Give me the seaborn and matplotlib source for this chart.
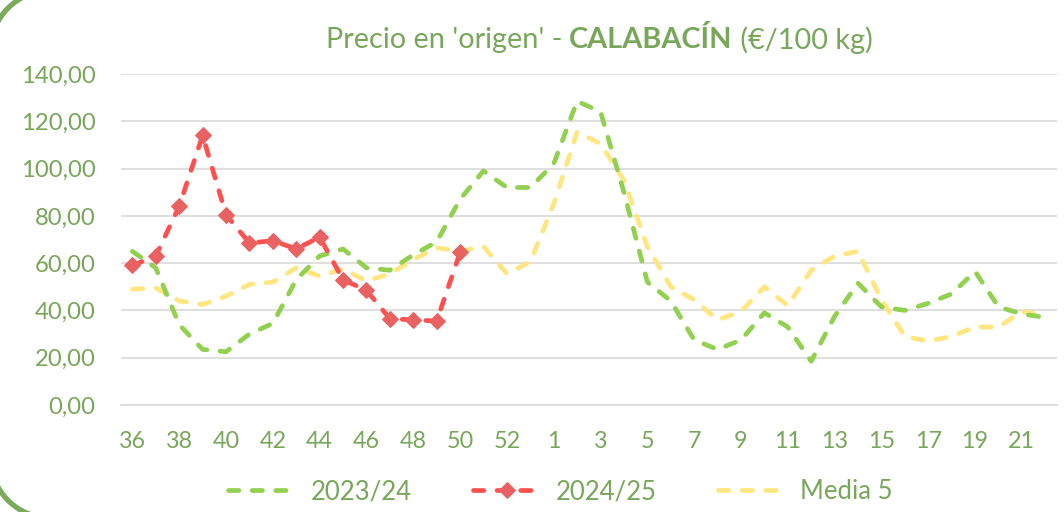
import matplotlib
matplotlib.use("Agg")
import matplotlib.pyplot as plt
from matplotlib.patches import Arc
from matplotlib.ticker import FuncFormatter, FixedLocator
import numpy as np
import pandas as pd
import seaborn as sns

# semanas de la campaña (36..53, 1..22)
semanas = [str(w) for w in range(36, 54)] + [str(w) for w in range(1, 23)]

precio_2324 = [65, 58, 34, 23.5, 22.5, 30, 34.5, 53, 63, 66, 58, 57, 63.5, 69, 87, 99,
               92, 92, 102, 128.5, 124, 90, 52, 44, 27.5, 23.5, 27.5, 39, 33, 18.5,
               37.5, 51.5, 41.5, 40, 43, 47, 56.5, 41.5, 38.5, 37]
precio_2425 = [59, 63, 84, 114, 80.5, 68.5, 69.5, 66, 71, 53, 48.5, 36.5, 36, 35.5, 64.5]
media_5 = [49, 49.5, 44, 42.5, 46, 51, 52, 58, 54.5, 57.5, 52.5, 55.5, 61.5, 66.5, 65, 67,
           55.5, 60.5, 85, 115.5, 110.5, 95, 67, 50, 44.5, 36, 39.5, 50, 42, 57,
           63, 65, 44.5, 29, 27, 29, 33, 33, 39.5, 38]

serie_labels = ["2023/24", "2024/25", "Media 5"]
serie_colors = ["#92D050", "#FF5050", "#FFE680"]
txt_color = "#78A65A"

n = len(semanas)
df = pd.DataFrame({
    "idx": np.arange(n),
    "2023/24": precio_2324,
    "2024/25": precio_2425 + [np.nan] * (n - len(precio_2425)),
    "Media 5": media_5,
})

sns.set_style("white")
plt.rcParams["font.family"] = ["Lato", "DejaVu Sans"]

fig = plt.figure(figsize=(10.64, 5.12), dpi=100)

# esquinas del marco redondeado del contenedor (eje de fondo en pixeles)
bg = fig.add_axes([0, 0, 1, 1], zorder=0)
bg.set_xlim(0, 1064)
bg.set_ylim(0, 512)
bg.axis("off")
bg.add_patch(Arc((50.5, 461.5), 120, 120, theta1=90, theta2=180,
                 color="#7BAA5C", lw=3.8, clip_on=False))
bg.add_patch(Arc((50.5, 54), 120, 120, theta1=180, theta2=270,
                 color="#7BAA5C", lw=3.8, clip_on=False))

ax = fig.add_axes([0.1134, 0.209, 0.880, 0.6465], zorder=1)
ax.patch.set_alpha(0)

dash = (0, (2.2, 2.8))
handles = []
for name, col in zip(serie_labels, serie_colors):
    kw = {}
    if name == "2024/25":
        kw = dict(marker="D", markersize=8.5, markerfacecolor="#E86262",
                  markeredgecolor="#E86262")
    sns.lineplot(data=df, x="idx", y=name, color=col, lw=3.4, ax=ax, legend=False,
                 linestyle=dash, dash_capstyle="round", **kw)
    line = ax.get_lines()[-1]
    line.set_label(name)
    handles.append(line)

# orden de dibujo: media 5 debajo
handles[2].set_zorder(2)
handles[0].set_zorder(3)
handles[1].set_zorder(4)

ax.set_xlim(-0.5, n - 0.5)
ax.set_ylim(0, 140)
ax.set_yticks(np.arange(0, 141, 20))
ax.yaxis.set_major_formatter(FuncFormatter(lambda v, p: f"{v:.2f}".replace(".", ",")))
ax.xaxis.set_major_locator(FixedLocator(np.arange(0, n, 2)))
ax.set_xticklabels(semanas[::2])
ax.xaxis.set_minor_locator(FixedLocator(np.arange(-0.5, n, 1)))
ax.tick_params(axis="x", which="major", length=0, pad=19, labelsize=16.8, labelcolor=txt_color)
ax.tick_params(axis="x", which="minor", length=6, width=1.1, color="#D9D9D9", direction="out")
ax.tick_params(axis="y", length=0, pad=18, labelsize=17.2, labelcolor=txt_color)
ax.grid(axis="y", color="#D9D9D9", lw=1.2)
ax.grid(axis="x", visible=False)
ax.set_axisbelow(True)
for s in ["left", "right", "top"]:
    ax.spines[s].set_visible(False)
ax.spines["bottom"].set_color("#D9D9D9")
ax.spines["bottom"].set_linewidth(1.2)
ax.set_xlabel("")
ax.set_ylabel("")

leg = fig.legend(handles=handles, loc="center", bbox_to_anchor=(0.527, 0.04), ncol=3,
                 frameon=False, fontsize=18.5, handlelength=2.6, handletextpad=0.6,
                 columnspacing=2.4)
for t in leg.get_texts():
    t.set_color(txt_color)

# titulo en tres partes (negrita en el medio)
parts = [("Precio en 'origen' - ", "normal"), ("CALABACÍN", "bold"), (" (€/100 kg)", "normal")]
r = fig.canvas.get_renderer()
objs = [fig.text(0, 0.922, s, fontsize=20.8, fontweight=w, color=txt_color, va="center")
        for s, w in parts]
widths = [o.get_window_extent(r).width for o in objs]
x0 = 599 - sum(widths) / 2
for o, w in zip(objs, widths):
    o.set_x(x0 / 1064)
    x0 += w

fig.savefig("out.png", dpi=100)
